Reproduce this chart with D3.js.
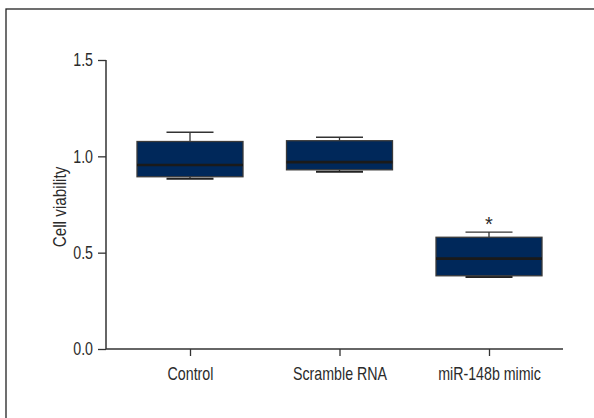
<!DOCTYPE html>
<html><head><meta charset="utf-8">
<script src="https://cdn.jsdelivr.net/npm/d3@7/dist/d3.min.js"></script>
<style>
body{margin:0;background:#fff;}
text{font-family:"Liberation Sans",Arial,sans-serif;fill:#2b2b2b;}
</style></head><body>
<svg id="c" width="594" height="418"></svg>
<script>
const categories = ["Control", "Scramble RNA", "miR-148b mimic"];
const whiskerHigh = [1.125, 1.099, 0.607];
const q3 = [1.077, 1.081, 0.580];
const medians = [0.955, 0.970, 0.469];
const q1 = [0.894, 0.930, 0.380];
const whiskerLow = [0.884, 0.920, 0.374];
const significance = ["", "", "*"];
const yTicks = [0.0, 0.5, 1.0, 1.5];
const yLabel = "Cell viability";

const NARROW = 0.79;
const FONT = '"Liberation Sans",Arial,sans-serif';
const svg = d3.select("#c");
// outer frame
svg.append("rect").attr("x",6).attr("y",9).attr("width",700).attr("height",600)
  .attr("fill","none").attr("stroke","#222").attr("stroke-width",1.3);

const y = d3.scaleLinear().domain([0,1.5]).range([349,60]);
const x = d3.scalePoint().domain(categories).range([190,489]);
const axisLeftX = 106, axisRightX = 563;
const boxW = 106, capW = 47;

// y axis
const ya = svg.append("g").attr("transform",`translate(${axisLeftX},0)`)
  .call(d3.axisLeft(y).tickValues(yTicks).tickFormat(d3.format(".1f")).tickSize(8).tickPadding(5));
ya.select(".domain").remove();
ya.append("line").attr("x1",0).attr("x2",0).attr("y1",y(1.5)).attr("y2",y(0)).attr("stroke","#333").attr("stroke-width",1.5);
ya.selectAll(".tick line").attr("stroke","#333").attr("stroke-width",1.3);
ya.selectAll(".tick text").attr("font-size",18).style("font-family",FONT).attr("fill","#2b2b2b")
  .attr("x",-13/NARROW).attr("transform",`scale(${NARROW},1)`);

// x axis
const xa = svg.append("g").attr("transform",`translate(0,${y(0)})`)
  .call(d3.axisBottom(x).tickSize(7).tickPadding(11));
xa.select(".domain").remove();
xa.append("line").attr("x1",axisLeftX).attr("x2",axisRightX).attr("y1",0).attr("y2",0).attr("stroke","#333").attr("stroke-width",1.5);
xa.selectAll(".tick line").attr("stroke","#333").attr("stroke-width",1.3);
xa.selectAll(".tick text").attr("font-size",18).style("font-family",FONT).attr("fill","#2b2b2b")
  .attr("transform",`scale(${NARROW},1)`);

// y label
svg.append("text").attr("transform",`translate(66,207) rotate(-90) scale(0.85,1)`)
  .attr("text-anchor","middle").attr("font-size",18).text(yLabel);

// boxes
const g = svg.append("g");
categories.forEach((c,i)=>{
  const cx = x(c);
  g.append("line").attr("x1",cx).attr("x2",cx).attr("y1",y(whiskerHigh[i])).attr("y2",y(q3[i])).attr("stroke","#333").attr("stroke-width",1.3);
  g.append("line").attr("x1",cx-capW/2).attr("x2",cx+capW/2).attr("y1",y(whiskerHigh[i])).attr("y2",y(whiskerHigh[i])).attr("stroke","#333").attr("stroke-width",1.3);
  g.append("line").attr("x1",cx).attr("x2",cx).attr("y1",y(q1[i])).attr("y2",y(whiskerLow[i])).attr("stroke","#222").attr("stroke-width",1.3);
  g.append("line").attr("x1",cx-capW/2).attr("x2",cx+capW/2).attr("y1",y(whiskerLow[i])).attr("y2",y(whiskerLow[i])).attr("stroke","#222").attr("stroke-width",2);
  g.append("rect").attr("x",cx-boxW/2).attr("y",y(q3[i])).attr("width",boxW).attr("height",y(q1[i])-y(q3[i]))
    .attr("fill","#00285a").attr("stroke","#3a3a3a").attr("stroke-width",1.3);
  g.append("line").attr("x1",cx-boxW/2).attr("x2",cx+boxW/2).attr("y1",y(medians[i])).attr("y2",y(medians[i])).attr("stroke","#1a1a1a").attr("stroke-width",2.6);
  if(significance[i]){
    g.append("text").attr("x",cx).attr("y",y(whiskerHigh[i])-1).attr("text-anchor","middle").attr("font-size",20).text(significance[i]);
  }
});
</script></body></html>
